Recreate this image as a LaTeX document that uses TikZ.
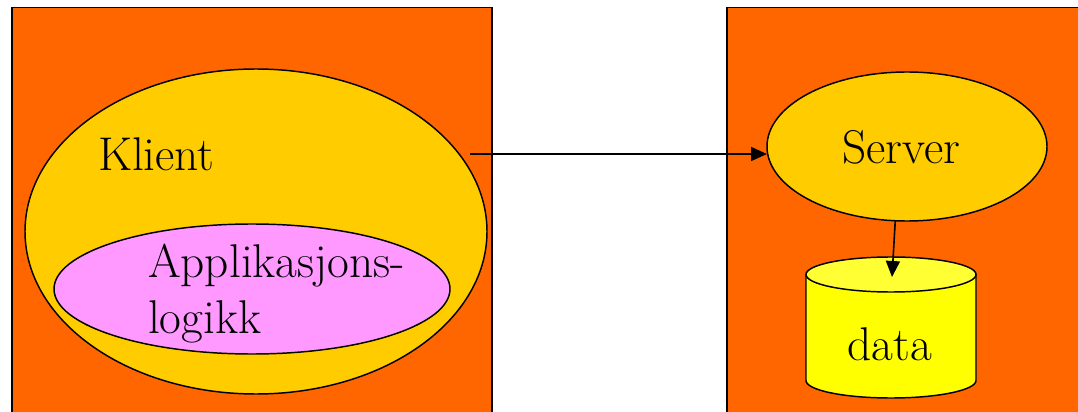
\documentclass[tikz,border=0pt]{standalone}
\usetikzlibrary{arrows.meta,shapes.geometric}
\definecolor{boxorange}{HTML}{FF6600}
\definecolor{gold}{HTML}{FFCC00}
\definecolor{pinkapp}{HTML}{FF99FF}
\definecolor{cylyellow}{HTML}{FFFF00}
\definecolor{cyltopyellow}{HTML}{FFFF33}
\begin{document}
\begin{tikzpicture}[x=0.75pt,y=0.75pt,
  every node/.style={inner sep=0pt, outer sep=0pt},
  bigbox/.style={draw=black, fill=boxorange, line width=1.1pt},
  oval/.style={draw=black, line width=1.1pt, ellipse},
  lbl/.style={font=\fontsize{35.5}{42}\selectfont, anchor=base west},
  conn/.style={draw=black, line width=1.2pt, -{Triangle[length=12pt,width=10.5pt]}}]
\useasboundingbox (0,0) rectangle (1078,411);
\fill[white] (0,0) rectangle (1078,411);
% panels
\draw[bigbox] (12,-10) rectangle (492,403.5);
\draw[bigbox] (727,-10) rectangle (1095,403.5);
% client side
\node[oval, fill=gold, minimum width=346.5pt, minimum height=243.75pt] (klient) at (256,179.5) {};
\node[lbl] (klientlbl) at (98,240) {Klient};
\node[oval, fill=pinkapp, minimum width=297pt, minimum height=97.5pt] (app) at (252,122) {};
\node[lbl] (applbl1) at (148,134) {Applikasjons-};
\node[lbl] (applbl2) at (148,78) {logikk};
% server side
\node[oval, fill=gold, minimum width=210pt, minimum height=111.75pt] (server) at (907,264.5) {};
\node[lbl, anchor=base] (serverlbl) at (901.5,247) {Server};
% database cylinder
\filldraw[draw=black, line width=1.1pt, fill=cylyellow]
  (806,136.5) -- (806,30.5) arc[start angle=180, end angle=360, x radius=85, y radius=17.5] -- (976,136.5) -- cycle;
\filldraw[draw=black, line width=1.1pt, fill=cyltopyellow] (891,136.5) ellipse[x radius=85, y radius=17.5];
\node[lbl, anchor=base] (datalbl) at (890,51) {data};
\coordinate (datatop) at (892,134);
% connectors
\coordinate (kstart) at (470,257);
\draw[conn] (kstart) -- (kstart -| server.west);
\draw[conn] (server.261) -- (datatop);
\end{tikzpicture}
\end{document}
